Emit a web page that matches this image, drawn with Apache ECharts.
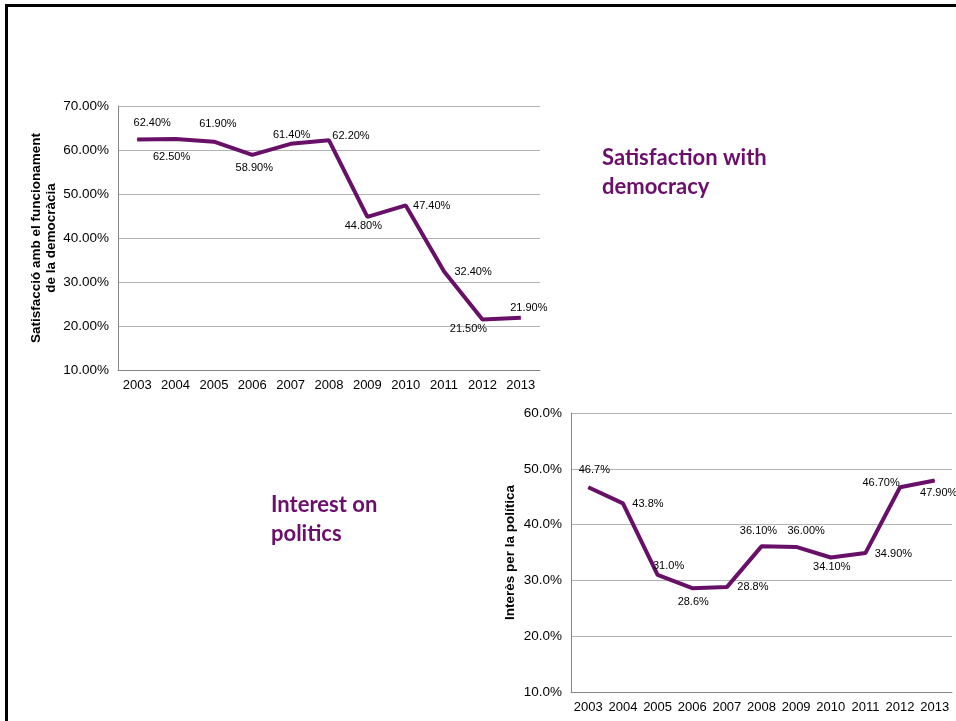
<!DOCTYPE html>
<html>
<head>
<meta charset="utf-8">
<style>
html,body{margin:0;padding:0;background:#fff;}
#chart{width:956px;height:721px;}
</style>
<script src="https://cdn.jsdelivr.net/npm/echarts@6/dist/echarts.min.js"></script>
</head>
<body>
<div id="chart"></div>
<script>
const years = ['2003','2004','2005','2006','2007','2008','2009','2010','2011','2012','2013'];
const satisfaction = [62.4, 62.5, 61.9, 58.9, 61.4, 62.2, 44.8, 47.4, 32.4, 21.5, 21.9];
const satisfactionLabels = ['62.40%','62.50%','61.90%','58.90%','61.40%','62.20%','44.80%','47.40%','32.40%','21.50%','21.90%'];
const interest = [46.7, 43.8, 31.0, 28.6, 28.8, 36.1, 36.0, 34.1, 34.9, 46.7, 47.9];
const interestLabels = ['46.7%','43.8%','31.0%','28.6%','28.8%','36.10%','36.00%','34.10%','34.90%','46.70%','47.90%'];
const yTicks1 = ['10.00%','20.00%','30.00%','40.00%','50.00%','60.00%','70.00%'];
const yTicks2 = ['10.0%','20.0%','30.0%','40.0%','50.0%','60.0%'];

// label offsets (style, kept separate from data)
const off1 = [[15,-16],[-4,18],[4,-18],[2,13],[1,-9],[22,-4],[-4,9],[26,1],[29,1],[-14,10],[8,-10]];
const off2 = [[6,-17],[25,1],[11,-9],[1,14],[26,0],[-3,-15],[10,-16],[1,9],[28,1],[-19,-4],[4,12]];

const lineColor = '#680f68';
const titleColor = '#6b0f6b';
const font = 'Liberation Sans, Arial, sans-serif';

function buildData(vals, labels, offs) {
  return vals.map((v, i) => ({
    value: v,
    label: { show: true, position: 'inside', offset: offs[i], formatter: labels[i] }
  }));
}

const chart = echarts.init(document.getElementById('chart'), null, {renderer: 'canvas'});

function yAxis(gridIndex, min, max, ticks, name, gap) {
  return {
    gridIndex, type: 'value', min, max, interval: 10,
    name, nameLocation: 'middle', nameRotate: 90, nameGap: gap,
    nameTextStyle: {fontFamily: font, fontWeight: 'bold', fontSize: 13.5, color: '#000', lineHeight: 15},
    axisLine: {show: true, lineStyle: {color: '#868686', width: 1}},
    axisTick: {show: false},
    axisLabel: {fontFamily: font, fontSize: 13.5, color: '#000', margin: 9,
      formatter: (v) => ticks[Math.round((v - min) / 10)]},
    splitLine: {show: true, lineStyle: {color: '#b3b3b3', width: 1}}
  };
}
function xAxis(gridIndex) {
  return {
    gridIndex, type: 'category', data: years, boundaryGap: true,
    axisLine: {show: true, lineStyle: {color: '#868686', width: 1}},
    axisTick: {show: false},
    axisLabel: {fontFamily: font, fontSize: 13, color: '#000', margin: 9, interval: 0}
  };
}
function series(idx, vals, labels, offs) {
  return {
    type: 'line', xAxisIndex: idx, yAxisIndex: idx,
    data: buildData(vals, labels, offs),
    symbol: 'circle', symbolSize: 1, showSymbol: true,
    itemStyle: {color: lineColor},
    lineStyle: {color: lineColor, width: 4},
    label: {fontFamily: font, fontSize: 11, color: '#000'},
    emphasis: {disabled: true},
    animation: false
  };
}

chart.setOption({
  backgroundColor: '#fff',
  animation: false,
  grid: [
    {left: 118, top: 106, width: 422, height: 264},
    {left: 571, top: 413, width: 381, height: 279}
  ],
  xAxis: [xAxis(0), xAxis(1)],
  yAxis: [
    yAxis(0, 10, 70, yTicks1, 'Satisfacció amb el funcionament\nde la democràcia', 59),
    yAxis(1, 10, 60, yTicks2, 'Interès per la política', 53)
  ],
  series: [
    series(0, satisfaction, satisfactionLabels, off1),
    series(1, interest, interestLabels, off2)
  ],
  graphic: [
    {type: 'polyline', shape: {points: [[6.5, 740], [6.5, 5.5], [970, 5.5]]},
      style: {stroke: '#000', lineWidth: 3, fill: null}, silent: true},
    {type: 'text', left: 602, top: 143,
      style: {text: 'Satisfaction with\ndemocracy', font: 'bold 22px Lato, "Open Sans", sans-serif',
        fill: titleColor, lineHeight: 29}},
    {type: 'text', left: 271, top: 490,
      style: {text: 'Interest on\npolitics', font: 'bold 22px Lato, "Open Sans", sans-serif',
        fill: titleColor, lineHeight: 29}}
  ]
});
</script>
</body>
</html>
